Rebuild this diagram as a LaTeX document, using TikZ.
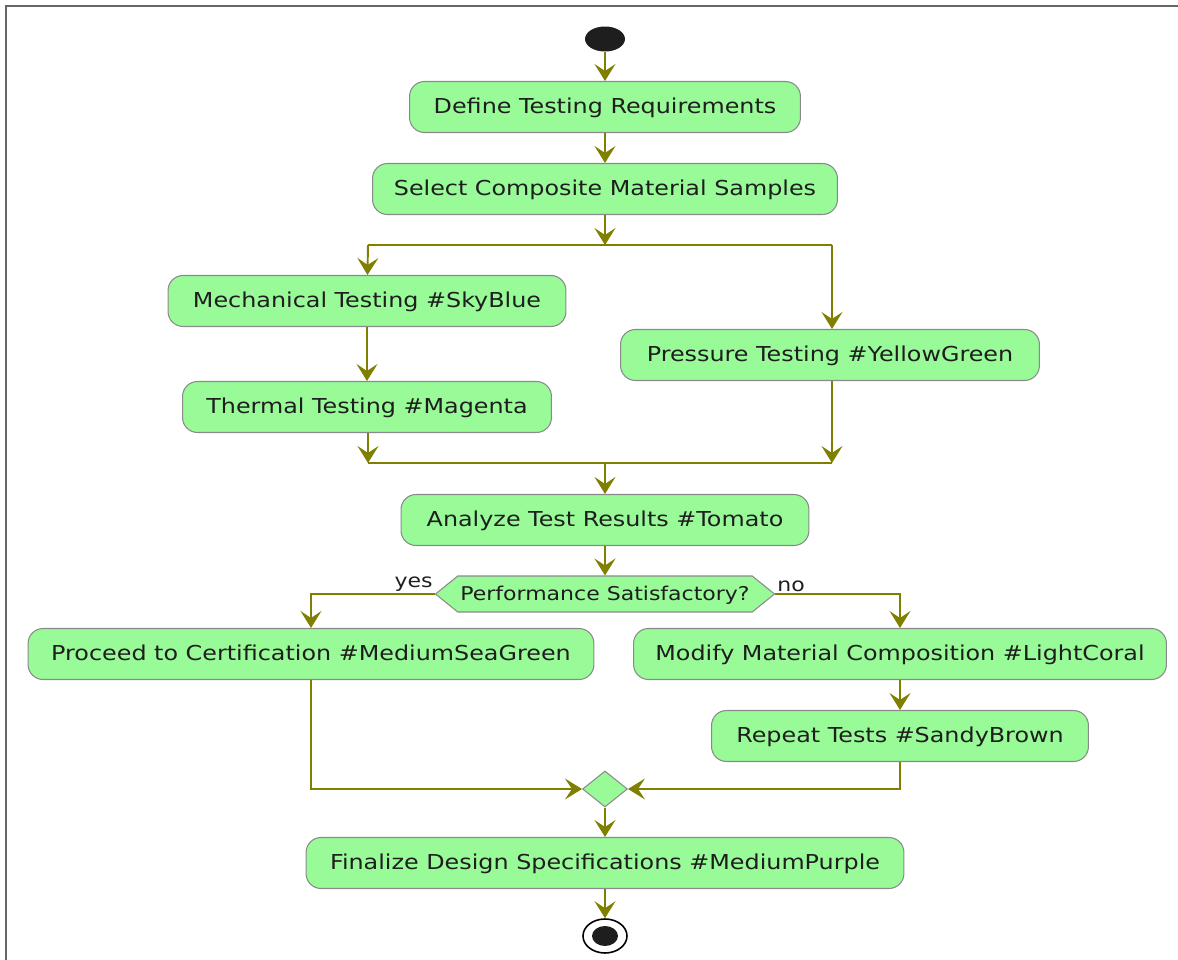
\documentclass[tikz,border=0pt]{standalone}
\usepackage{fontspec}
\setmainfont{DejaVu Sans}[FakeStretch=1.16]
\usepackage{tikz}
\usetikzlibrary{arrows.meta}
\usetikzlibrary{shapes.geometric}
\usetikzlibrary{shapes.symbols}

\definecolor{actfill}{HTML}{98FB98}
\definecolor{actline}{HTML}{8A8A8A}
\definecolor{flowcol}{HTML}{808000}
\definecolor{inkcol}{HTML}{1E1E1E}

\begin{document}
\begin{tikzpicture}[x=0.02cm,y=-0.02cm,
  act/.style={rounded corners=0.3cm,fill=actfill,draw=actline,line width=0.6pt,
    minimum height=1.02cm,inner sep=0pt,text=inkcol,font=\fontsize{11.7}{14}\selectfont,
    text height=0.93em,text depth=0.2em},
  flow/.style={draw=flowcol,line width=1.1pt,-{Stealth[length=0.34cm,width=0.42cm,inset=0.14cm]}},
  bar/.style={draw=flowcol,line width=1.1pt}]
  \useasboundingbox (0,0) rectangle (1178,960);

  %frame
  \draw[gray!80!black,line width=1.2pt] (6,960) -- (6,6) -- (1178,6);

  %start and end
  \node[ellipse,fill=inkcol,minimum width=0.8cm,minimum height=0.5cm,inner sep=0pt] (begin) at (605,39) {};
  \node[ellipse,draw=black,fill=white,line width=0.9pt,minimum width=0.88cm,minimum height=0.68cm,inner sep=0pt] (finish) at (605,936) {};
  \fill[inkcol] (finish) ellipse [x radius=13, y radius=10];

  %activities
  \node[act,minimum width=7.82cm] (define) at (605,107) {Define Testing Requirements};
  \node[act,minimum width=9.3cm] (select) at (605,189) {Select Composite Material Samples};
  \node[act,minimum width=7.96cm] (mech) at (367,301) {Mechanical Testing \#SkyBlue};
  \node[act,minimum width=7.38cm] (thermal) at (367,407) {Thermal Testing \#Magenta};
  \node[act,minimum width=8.38cm] (pressure) at (830,355) {Pressure Testing \#YellowGreen};
  \node[act,minimum width=8.16cm] (analyze) at (605,520) {Analyze Test Results \#Tomato};
  \node[act,minimum width=11.32cm] (proceed) at (311,654) {Proceed to Certification \#MediumSeaGreen};
  \node[act,minimum width=10.66cm] (modify) at (900,654) {Modify Material Composition \#LightCoral};
  \node[act,minimum width=7.54cm] (repeat) at (900,736) {Repeat Tests \#SandyBrown};
  \node[act,minimum width=11.96cm] (final) at (605,863) {Finalize Design Specifications \#MediumPurple};

  %decision and merge
  \node[signal,signal to=west and east,signal pointer angle=78,fill=actfill,draw=actline,
    line width=0.6pt,minimum width=6.78cm,minimum height=0.72cm,inner sep=0pt,text=inkcol,
    font=\fontsize{10.8}{12}\selectfont,text height=0.93em,text depth=0.2em] (perf) at (605,594) {Performance Satisfactory?};
  \node[diamond,fill=actfill,draw=actline,line width=0.6pt,minimum width=0.9cm,
    minimum height=0.72cm,inner sep=0pt] (merge) at (605,789) {};

  %fork and join bars
  \coordinate (forkL) at (368,245);
  \coordinate (forkM) at (605,245);
  \coordinate (forkR) at (832,245);
  \coordinate (joinL) at (368,463);
  \coordinate (joinM) at (605,463);
  \coordinate (joinR) at (832,463);
  \draw[bar] (forkL) -- (forkR);
  \draw[bar] (joinL) -- (joinR);

  %arrows
  \draw[flow] (begin) -- (define);
  \draw[flow] (define) -- (select);
  \draw[flow] (select) -- (forkM);
  \draw[flow] (forkL) -- (mech);
  \draw[flow] (forkR) -- (pressure.north -| forkR);
  \draw[flow] (mech) -- (thermal);
  \draw[flow] (thermal.south -| joinL) -- (joinL);
  \draw[flow] (pressure.south -| joinR) -- (joinR);
  \draw[flow] (joinM) -- (analyze);
  \draw[flow] (analyze) -- (perf);
  \draw[flow] (perf.west) -| (proceed.north);
  \draw[flow] (perf.east) -| (modify.north);
  \draw[flow] (modify) -- (repeat);
  \draw[flow] (proceed.south) |- (merge.west);
  \draw[flow] (repeat.south) |- (merge.east);
  \draw[flow] (merge) -- (final);
  \draw[flow] (final) -- (finish);

  %branch labels
  \node[anchor=south east,inner sep=1pt,text=inkcol,font=\fontsize{10.8}{12}\selectfont] (yes) at (perf.west) {yes};
  \node[anchor=south west,inner sep=1pt,text=inkcol,font=\fontsize{10.8}{12}\selectfont] (no) at (perf.east) {no};
\end{tikzpicture}
\end{document}
